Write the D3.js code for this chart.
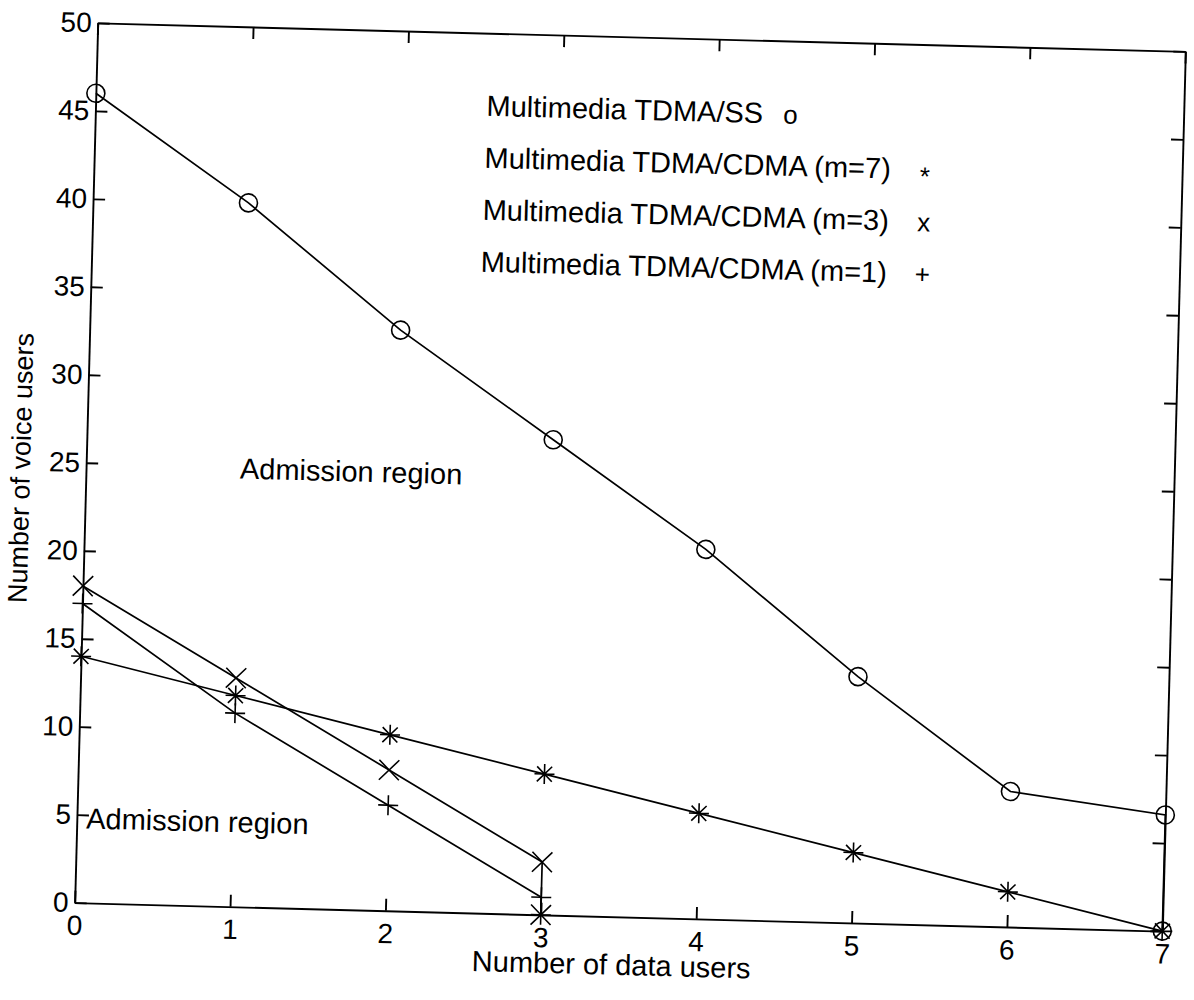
<!DOCTYPE html>
<html>
<head>
<meta charset="utf-8">
<script src="https://cdn.jsdelivr.net/npm/d3@7"></script>
<style>
  body { margin: 0; background: #fff; }
  svg { display: block; font-family: "Liberation Sans", Arial, Helvetica, sans-serif; }
  .axis path, .axis line { stroke: #000; stroke-width: 1.9; }
  .axis text { font-size: 28px; fill: #000; }
</style>
</head>
<body>
<div id="chart"></div>
<script>
// values
const xTicks = [0, 1, 2, 3, 4, 5, 6, 7];
const yTicks = [0, 5, 10, 15, 20, 25, 30, 35, 40, 45, 50];

const ssUsers = [0, 1, 2, 3, 4, 5, 6, 7, 7];
const ssVoice = [46, 40, 33, 27, 21, 14, 7.7, 6.6, 0];
const m7Users = [0, 1, 2, 3, 4, 5, 6, 7];
const m7Voice = [14, 12, 10, 8, 6, 4, 2, 0];
const m3Users = [0, 1, 2, 3, 3];
const m3Voice = [18, 13, 8, 3, 0];
const m1Users = [0, 1, 2, 3, 3];
const m1Voice = [17, 11, 6, 1, 0];

const legendLabels = [
  "Multimedia TDMA/SS",
  "Multimedia TDMA/CDMA (m=7)",
  "Multimedia TDMA/CDMA (m=3)",
  "Multimedia TDMA/CDMA (m=1)"
];
const legendSymbols = ["o", "*", "x", "+"];

const series = [
  { xs: ssUsers, ys: ssVoice, marker: "o" },
  { xs: m7Users, ys: m7Voice, marker: "*" },
  { xs: m3Users, ys: m3Voice, marker: "x" },
  { xs: m1Users, ys: m1Voice, marker: "+" }
];

const W = 1194, H = 1000;
const margin = { left: 86, top: 37, width: 1088, height: 880 };
const tilt = 1.5; // the scan is slightly rotated

const svg = d3.select("#chart").append("svg").attr("width", W).attr("height", H);
svg.append("rect").attr("width", W).attr("height", H).attr("fill", "#fff");

const root = svg.append("g")
  .attr("transform", `rotate(${tilt},${margin.left + margin.width / 2},${margin.top + margin.height / 2})`);
const g = root.append("g").attr("transform", `translate(${margin.left},${margin.top})`);

const x = d3.scaleLinear().domain([0, 7]).range([0, margin.width]);
const y = d3.scaleLinear().domain([0, 50]).range([margin.height, 0]);

////////////////////////////////////////////////////////////////////////////////////
// axes, MATLAB style ticks pointing inwards on every side

g.append("g").attr("class", "axis")
  .attr("transform", `translate(0,${margin.height})`)
  .call(d3.axisBottom(x).tickValues(xTicks).tickFormat(d3.format("d")).tickSizeInner(-12).tickSizeOuter(0).tickPadding(10))
  .call(s => s.selectAll("text").attr("dy", "0.8em"));

g.append("g").attr("class", "axis")
  .call(d3.axisTop(x).tickValues(xTicks).tickFormat("").tickSizeInner(-12).tickSizeOuter(0));

g.append("g").attr("class", "axis")
  .call(d3.axisLeft(y).tickValues(yTicks).tickFormat(d3.format("d")).tickSizeInner(-12).tickSizeOuter(0).tickPadding(6));

g.append("g").attr("class", "axis")
  .attr("transform", `translate(${margin.width},0)`)
  .call(d3.axisRight(y).tickValues(yTicks).tickFormat("").tickSizeInner(-12).tickSizeOuter(0));

g.append("text")
  .attr("x", x(3.5) - 6)
  .attr("y", margin.height + 58)
  .attr("text-anchor", "middle")
  .style("font-size", "29px")
  .text("Number of data users");

g.append("text")
  .attr("transform", `translate(-56,${y(25) + 7}) rotate(-90)`)
  .attr("text-anchor", "middle")
  .style("font-size", "27px")
  .text("Number of voice users");

////////////////////////////////////////////////////////////////////////////////////
// curves and markers

const line = d3.line().x(d => x(d[0])).y(d => y(d[1]));

function markerPath(type) {
  const r = 10;
  const p = d3.path();
  if (type === "o") {
    p.arc(0, 0, 9, 0, 2 * Math.PI);
  } else if (type === "x") {
    p.moveTo(-r, -r); p.lineTo(r, r);
    p.moveTo(-r, r); p.lineTo(r, -r);
  } else if (type === "+") {
    p.moveTo(-r, 0); p.lineTo(r, 0);
    p.moveTo(0, -r); p.lineTo(0, r);
  } else {
    const d = r * 0.75;
    p.moveTo(-r, 0); p.lineTo(r, 0);
    p.moveTo(0, -r); p.lineTo(0, r);
    p.moveTo(-d, -d); p.lineTo(d, d);
    p.moveTo(-d, d); p.lineTo(d, -d);
  }
  return p.toString();
}

series.forEach(s => {
  const pts = s.xs.map((v, i) => [v, s.ys[i]]);
  g.append("path")
    .datum(pts)
    .attr("d", line)
    .attr("fill", "none")
    .attr("stroke", "#000")
    .attr("stroke-width", 1.7);
  g.append("g").selectAll("path")
    .data(pts)
    .enter()
    .append("path")
    .attr("transform", d => `translate(${x(d[0])},${y(d[1])})`)
    .attr("d", markerPath(s.marker))
    .attr("fill", "none")
    .attr("stroke", "#000")
    .attr("stroke-width", 1.6);
});

////////////////////////////////////////////////////////////////////////////////////
// legend and annotations

const legend = g.append("g").attr("transform", `translate(${x(2.515)},${y(45.3)})`);
legend.selectAll("text.lab")
  .data(legendLabels)
  .enter()
  .append("text")
  .attr("class", "lab")
  .attr("x", (d, i) => -i * 0.6)
  .attr("y", (d, i) => i * 52)
  .style("font-size", "29px")
  .text(d => d);
legend.selectAll("text.sym")
  .data(legendSymbols)
  .enter()
  .append("text")
  .attr("class", "sym")
  .attr("x", (d, i) => (i === 0 ? 304 : 440))
  .attr("y", (d, i) => i * 52 + (d === "*" ? 6 : 0))
  .attr("text-anchor", "middle")
  .style("font-size", "26px")
  .text(d => d);

g.append("text")
  .attr("x", x(0.99))
  .attr("y", y(24.9) + 10)
  .style("font-size", "29px")
  .text("Admission region");

g.append("text")
  .attr("x", x(0.06))
  .attr("y", y(4.8) + 10)
  .style("font-size", "29px")
  .text("Admission region");
</script>
</body>
</html>
